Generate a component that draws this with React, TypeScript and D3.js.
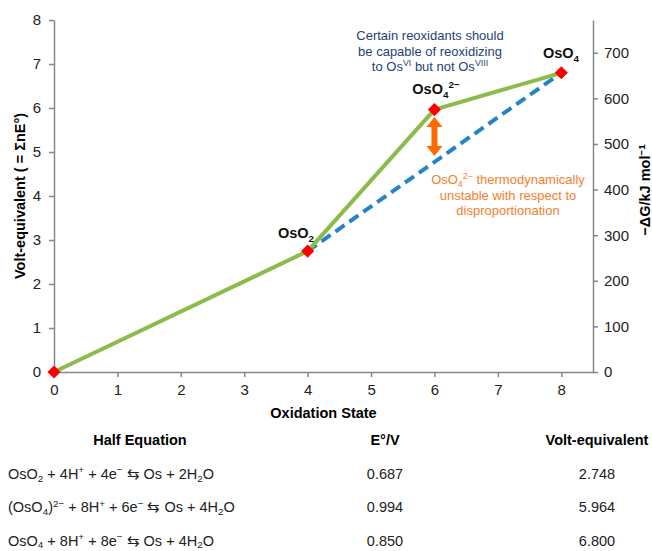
import React, { useRef, useEffect } from 'react';
import * as d3 from 'd3';

// oxidation states of osmium species and their volt-equivalents
const oxidationStates = [0, 4, 6, 8];
const voltEquivalents = [0, 2.748, 5.964, 6.8];
// line joining OsO2 and OsO4 (disproportionation reference)
const dashedIdx = [1, 3];

const xTicks = [0, 1, 2, 3, 4, 5, 6, 7, 8];
const yTicks = [0, 1, 2, 3, 4, 5, 6, 7, 8];
const rightTicks = [0, 100, 200, 300, 400, 500, 600, 700];
const FARADAY = 96.485;

type Seg = { t: string; v?: 'sub' | 'sup' };

const speciesLabels: Seg[][] = [
  [],
  [{ t: 'OsO' }, { t: '2', v: 'sub' }],
  [{ t: 'OsO' }, { t: '4', v: 'sub' }, { t: '2−', v: 'sup' }],
  [{ t: 'OsO' }, { t: '4', v: 'sub' }],
];

const tableHeaders = ['Half Equation', 'E°/V', 'Volt-equivalent'];
const halfEquations: Seg[][] = [
  [{ t: 'OsO' }, { t: '2', v: 'sub' }, { t: ' + 4H' }, { t: '+', v: 'sup' }, { t: ' + 4e' }, { t: '−', v: 'sup' }, { t: ' ⇆ Os + 2H' }, { t: '2', v: 'sub' }, { t: 'O' }],
  [{ t: '(OsO' }, { t: '4', v: 'sub' }, { t: ')' }, { t: '2−', v: 'sup' }, { t: ' + 8H' }, { t: '+', v: 'sup' }, { t: ' + 6e' }, { t: '−', v: 'sup' }, { t: ' ⇆ Os + 4H' }, { t: '2', v: 'sub' }, { t: 'O' }],
  [{ t: 'OsO' }, { t: '4', v: 'sub' }, { t: ' + 8H' }, { t: '+', v: 'sup' }, { t: ' + 8e' }, { t: '−', v: 'sup' }, { t: ' ⇆ Os + 4H' }, { t: '2', v: 'sub' }, { t: 'O' }],
];
const potentials = ['0.687', '0.994', '0.850'];
const voltEqText = ['2.748', '5.964', '6.800'];

const blueNote: Seg[][] = [
  [{ t: 'Certain reoxidants should' }],
  [{ t: 'be capable of reoxidizing' }],
  [{ t: 'to Os' }, { t: 'VI', v: 'sup' }, { t: ' but not Os' }, { t: 'VIII', v: 'sup' }],
];
const orangeNote: Seg[][] = [
  [{ t: 'OsO' }, { t: '4', v: 'sub' }, { t: '2−', v: 'sup' }, { t: ' thermodynamically' }],
  [{ t: 'unstable with respect to' }],
  [{ t: 'disproportionation' }],
];

const FONT = "'Liberation Sans', Arial, sans-serif";
const AXIS = '#878787';

function rich(text: any, segs: Seg[], fs: number, subShift = 0.28) {
  let cur = 0;
  segs.forEach((s) => {
    const target = s.v === 'sub' ? fs * subShift : s.v === 'sup' ? -fs * 0.38 : 0;
    text.append('tspan')
      .attr('dy', target - cur)
      .attr('font-size', s.v ? fs * 0.68 : fs)
      .text(s.t);
    cur = target;
  });
}

const App = () => {
  const svgRef = useRef<SVGSVGElement>(null);

  useEffect(() => {
    const svg = d3.select(svgRef.current);
    svg.selectAll('*').remove();

    const x = d3.scaleLinear().domain([0, 8.5]).range([54, 593]);
    const y = d3.scaleLinear().domain([0, 8]).range([372, 20]);
    const yRight = d3.scaleLinear().domain([0, 8 * FARADAY]).range([372, 20]);

    const styleAxis = (g: any) => {
      g.selectAll('path').attr('stroke', AXIS).attr('stroke-width', 1.5);
      g.selectAll('line').attr('stroke', AXIS).attr('stroke-width', 1.5);
      g.selectAll('text').attr('fill', '#222').attr('font-size', 15).attr('font-family', FONT);
    };

    svg.append('g')
      .attr('transform', 'translate(0,372)')
      .call(d3.axisBottom(x).tickValues(xTicks).tickSize(5).tickSizeOuter(0).tickPadding(7))
      .call(styleAxis);

    svg.append('g')
      .attr('transform', 'translate(54,0)')
      .call(d3.axisLeft(y).tickValues(yTicks).tickSize(5).tickSizeOuter(0).tickPadding(8))
      .call(styleAxis);

    svg.append('g')
      .attr('transform', 'translate(593,0)')
      .call(d3.axisRight(yRight).tickValues(rightTicks).tickSize(5).tickSizeOuter(0).tickPadding(6))
      .call(styleAxis);

    // axis titles
    svg.append('text')
      .attr('x', 323.5).attr('y', 418)
      .attr('text-anchor', 'middle').attr('font-weight', 'bold')
      .attr('font-size', 14.5).attr('font-family', FONT)
      .text('Oxidation State');

    svg.append('text')
      .attr('transform', 'translate(25,196) rotate(-90)')
      .attr('text-anchor', 'middle').attr('font-weight', 'bold')
      .attr('font-size', 14.5).attr('font-family', FONT)
      .text('Volt-equivalent ( = ΣnE°)');

    const rt = svg.append('text')
      .attr('transform', 'translate(650,190) rotate(-90)')
      .attr('text-anchor', 'middle').attr('font-weight', 'bold')
      .attr('font-family', FONT);
    rich(rt, [{ t: '−ΔG/kJ mol' }, { t: '−1', v: 'sup' }], 14.5);

    const pts = oxidationStates.map((o, i) => [o, voltEquivalents[i]] as [number, number]);
    const line = d3.line<[number, number]>().x((d) => x(d[0])).y((d) => y(d[1]));

    svg.append('path')
      .attr('d', line(dashedIdx.map((i) => pts[i])))
      .attr('fill', 'none')
      .attr('stroke', '#2584c6')
      .attr('stroke-width', 4)
      .attr('stroke-dasharray', '11,6');

    svg.append('path')
      .attr('d', line(pts))
      .attr('fill', 'none')
      .attr('stroke', '#8bbb4a')
      .attr('stroke-width', 4)
      .attr('stroke-linejoin', 'round');

    svg.selectAll('.marker')
      .data(pts)
      .enter()
      .append('path')
      .attr('class', 'marker')
      .attr('d', d3.symbol(d3.symbolDiamond2, 110)())
      .attr('transform', (d) => `translate(${x(d[0])},${y(d[1])})`)
      .attr('fill', '#ff0000');

    // species labels
    const labelPos: [number, number][] = [[0, 0], [296, 238], [436, 94], [561, 58]];
    speciesLabels.forEach((segs, i) => {
      if (!segs.length) return;
      const t = svg.append('text')
        .attr('x', labelPos[i][0]).attr('y', labelPos[i][1])
        .attr('text-anchor', 'middle').attr('font-weight', 'bold')
        .attr('font-family', FONT).attr('fill', '#111');
      rich(t, segs, 14.5);
    });

    // double arrow
    const ax = x(6);
    const top = 117, bot = 156;
    svg.append('path')
      .attr('d', `M${ax},${top} L${ax + 8},${top + 10} L${ax + 3},${top + 10} L${ax + 3},${bot - 10} L${ax + 8},${bot - 10} L${ax},${bot} L${ax - 8},${bot - 10} L${ax - 3},${bot - 10} L${ax - 3},${top + 10} L${ax - 8},${top + 10} Z`)
      .attr('fill', '#ff6a00');

    blueNote.forEach((segs, i) => {
      const t = svg.append('text')
        .attr('x', 430).attr('y', 40 + i * 15.5)
        .attr('text-anchor', 'middle').attr('fill', '#1f3f75')
        .attr('font-family', FONT);
      rich(t, segs, 13);
    });

    orangeNote.forEach((segs, i) => {
      const t = svg.append('text')
        .attr('x', 508).attr('y', 184 + i * 15.5)
        .attr('text-anchor', 'middle').attr('fill', '#f57e2c')
        .attr('font-family', FONT);
      rich(t, segs, 13, 0.22);
    });

    // table
    const colX = [140, 385, 597];
    tableHeaders.forEach((h, i) => {
      svg.append('text')
        .attr('x', colX[i]).attr('y', 445)
        .attr('text-anchor', 'middle').attr('font-weight', 'bold')
        .attr('font-size', 14.5).attr('font-family', FONT)
        .text(h);
    });
    halfEquations.forEach((segs, i) => {
      const ry = 479 + i * 33.3;
      const t = svg.append('text')
        .attr('x', 8).attr('y', ry)
        .attr('font-family', FONT).attr('fill', '#222');
      rich(t, segs, 14.5, 0.18);
      svg.append('text')
        .attr('x', colX[1]).attr('y', ry)
        .attr('text-anchor', 'middle').attr('font-size', 14.5)
        .attr('font-family', FONT).attr('fill', '#222')
        .text(potentials[i]);
      svg.append('text')
        .attr('x', colX[2]).attr('y', ry)
        .attr('text-anchor', 'middle').attr('font-size', 14.5)
        .attr('font-family', FONT).attr('fill', '#222')
        .text(voltEqText[i]);
    });
  }, []);

  return (
    <svg
      ref={svgRef}
      width={652}
      height={551}
      style={{ position: 'absolute', left: 0, top: 0, background: '#fff' }}
    />
  );
};

export default App;
